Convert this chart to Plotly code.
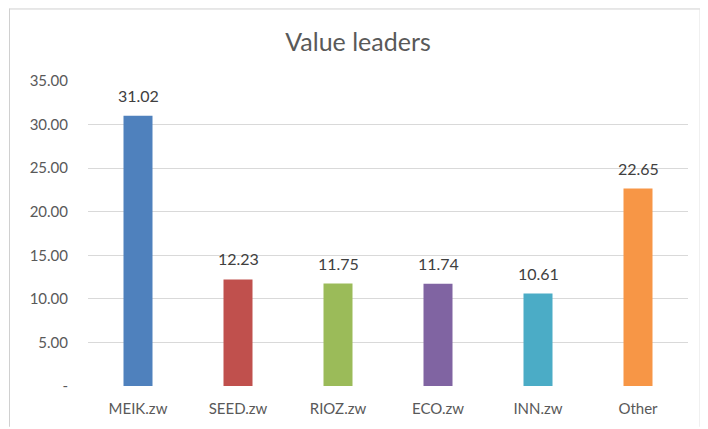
import plotly.graph_objects as go

categories = ["MEIK.zw", "SEED.zw", "RIOZ.zw", "ECO.zw", "INN.zw", "Other"]
values = [31.02, 12.23, 11.75, 11.74, 10.61, 22.65]
colors = ["#4F81BD", "#C0504D", "#9BBB59", "#8064A2", "#4BACC6", "#F79646"]
tick_vals = [0, 5, 10, 15, 20, 25, 30, 35]
tick_text = ["-", "5.00", "10.00", "15.00", "20.00", "25.00", "30.00", "35.00"]

FONT = "Lato, 'Open Sans', sans-serif"

fig = go.Figure(go.Bar(
    x=categories, y=values,
    marker=dict(color=colors, line=dict(width=0)),
    width=0.29,
    hoverinfo="x+y",
))

# the page body adds an 8px offset; figure coordinates are shifted accordingly
W, H = 700, 421
l, r, t, b = 80, 20, 73, 41
pw, ph = W - l - r, H - t - b

def px_x(x):
    return (x - l) / pw

def px_y(y):
    return (H - b - y) / ph

annotations = [
    dict(x=c, y=v, xref="x", yref="y", text=f"{v:.2f}", showarrow=False,
         yanchor="bottom", yshift=9, font=dict(size=16, color="#404040", family=FONT))
    for c, v in zip(categories, values)
]

fig.update_layout(
    width=W, height=H,
    margin=dict(l=l, r=r, t=t, b=b),
    paper_bgcolor="white", plot_bgcolor="white",
    showlegend=False,
    title=dict(text="Value leaders", x=350 / W, xanchor="center", y=1 - 34 / H, yanchor="middle",
               font=dict(size=25, color="#595959", family=FONT)),
    xaxis=dict(showgrid=False, showline=False, ticks="", ticklabelstandoff=12,
               tickfont=dict(size=15, color="#595959", family=FONT)),
    yaxis=dict(range=[0, 35], tickvals=tick_vals, ticktext=tick_text,
               showgrid=True, gridcolor="#D9D9D9", gridwidth=1, zeroline=False,
               showline=False, ticks="", ticklabelstandoff=19,
               tickfont=dict(size=15, color="#595959", family=FONT)),
    annotations=annotations,
    shapes=[
        dict(type="line", xref="paper", yref="paper", x0=px_x(1.5), x1=px_x(1.5), y0=px_y(0), y1=px_y(H),
             line=dict(color="#D0D0D0", width=1)),
        dict(type="line", xref="paper", yref="paper", x0=px_x(1.5), x1=px_x(692), y0=px_y(0.5), y1=px_y(0.5),
             line=dict(color="#D0D0D0", width=1)),
        dict(type="line", xref="paper", yref="paper", x0=px_x(692), x1=px_x(692), y0=px_y(0.5), y1=px_y(H),
             line=dict(color="#E0E0E0", width=1)),
    ],
    bargap=0.71,
)

fig.write_html("out.html")
